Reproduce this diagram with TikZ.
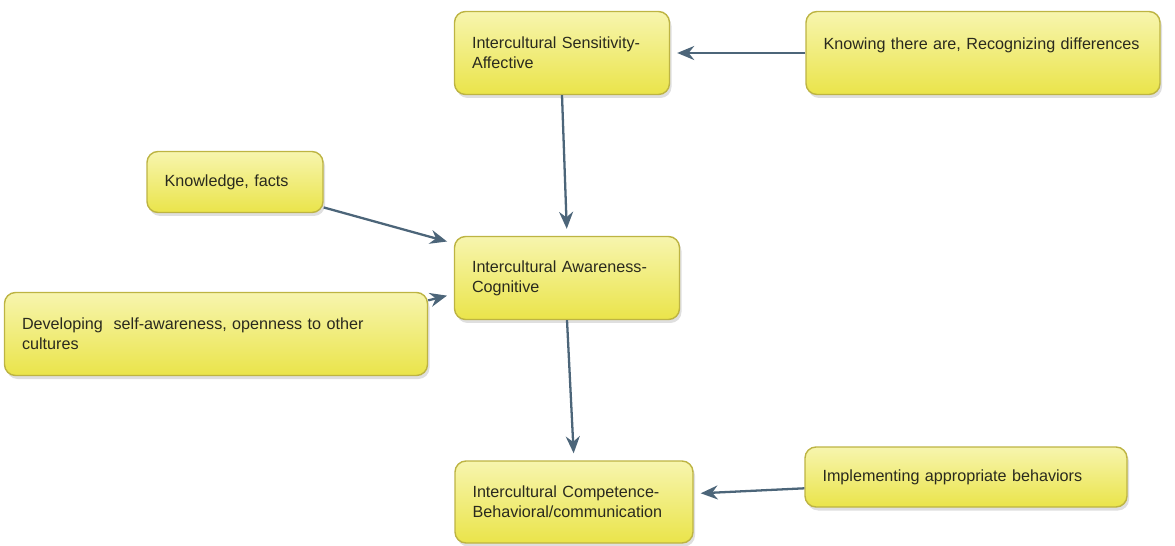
\documentclass[tikz,border=0pt]{standalone}
\usepackage{fontspec}
\setmainfont{Liberation Sans}
\usetikzlibrary{arrows.meta,shadows}

\definecolor{boxedge}{HTML}{BDB443}
\definecolor{boxtop}{HTML}{F7F5AE}
\definecolor{boxmid}{HTML}{F1EE62}
\definecolor{boxbot}{HTML}{EAE44A}
\definecolor{boxtext}{HTML}{2A2A1E}
\definecolor{linkcol}{HTML}{4C6579}

\tikzset{
  box/.style={rectangle, rounded corners=0.22cm, draw=boxedge, line width=0.8pt,
    top color=boxtop, middle color=boxmid, bottom color=boxbot,
    drop shadow={opacity=0.25, shadow xshift=0.04cm, shadow yshift=-0.07cm},
    align=left, inner xsep=0.35cm, text=boxtext,
    font=\fontsize{9.2}{11.2}\selectfont},
  link/.style={draw=linkcol, line width=1.3pt, shorten >=0.14cm,
    -{Stealth[length=0.34cm, width=0.28cm]}}
}

\begin{document}
\begin{tikzpicture}
  \useasboundingbox (0,0) rectangle (23.5,-10.92);

  % boxes
  \node [box, text width=3.6cm, minimum height=1.66cm] (sens) at (11.24,-1.06)
    {Intercultural Sensitivity-\\Affective};
  \node [box, text width=6.38cm, minimum height=1.66cm] (knowing) at (19.66,-1.06)
    {Knowing there are, Recognizing differences\\\mbox{}};
  \node [box, text width=2.82cm, minimum height=1.22cm] (knowl) at (4.70,-3.64)
    {Knowledge, facts};
  \node [box, text width=3.8cm, minimum height=1.66cm] (aware) at (11.34,-5.56)
    {Intercultural Awareness-\\Cognitive};
  \node [box, text width=7.76cm, minimum height=1.66cm] (selfaw) at (4.32,-6.68)
    {Developing\ \ self-awareness, openness to other\\cultures};
  \node [box, text width=4.06cm, minimum height=1.64cm] (comp) at (11.48,-10.04)
    {Intercultural Competence-\\Behavioral/communication};
  \node [box, text width=5.74cm, minimum height=1.2cm] (behav) at (19.32,-9.54)
    {Implementing appropriate behaviors};

  % arrows
  \draw [link] (knowing.west) -- (sens.east);
  \draw [link] (sens.south) -- (aware.north);
  \draw [link] (knowl.-16.6) -- (aware.163.6);
  \draw [link] (selfaw.9.1) -- (aware.188);
  \draw [link] (aware.south) -- (comp.north);
  \draw [link] (behav.184.3) -- (comp.4.3);
\end{tikzpicture}
\end{document}
